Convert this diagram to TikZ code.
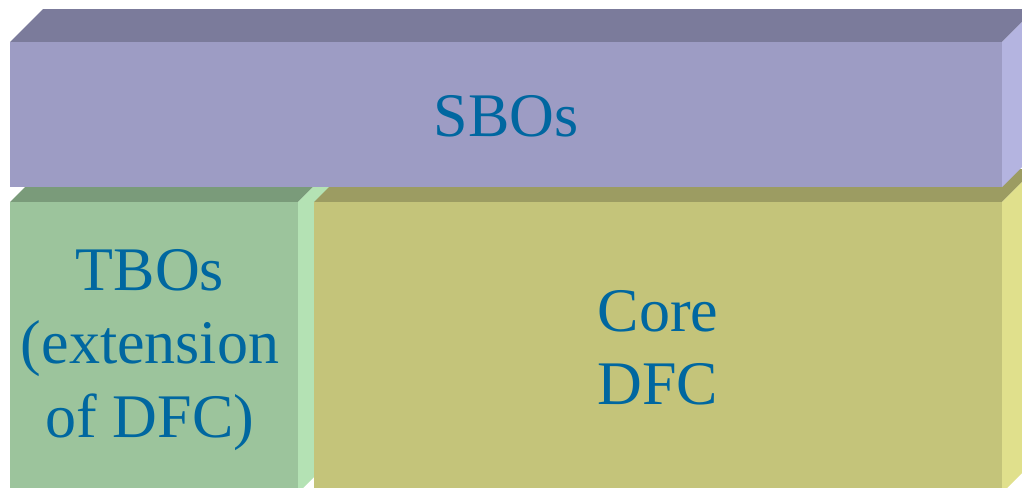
\documentclass[tikz,border=0pt]{standalone}
\usepackage{fontspec}
\setmainfont{Liberation Serif}

\definecolor{sboVorne}{RGB}{157,156,196}
\definecolor{sboOben}{RGB}{123,123,155}
\definecolor{sboSeite}{RGB}{180,180,224}
\definecolor{tboVorne}{RGB}{156,196,156}
\definecolor{tboOben}{RGB}{122,155,122}
\definecolor{tboSeite}{RGB}{180,226,180}
\definecolor{dfcVorne}{RGB}{196,196,122}
\definecolor{dfcOben}{RGB}{156,156,98}
\definecolor{dfcSeite}{RGB}{224,224,140}
\definecolor{textblau}{RGB}{0,103,160}

\tikzset{
	schrift/.style={text=textblau, inner sep=0pt, align=center,
		font=\fontsize{46.5}{55}\selectfont},
}

% Quader: #1,#2 = links oben, #3,#4 = rechts unten, #5 = Farbname
\newcommand{\quader}[5]{
	\fill[#5Oben] (#1,#2) -- ++(33,-33) -- (#3+33,#2-33) -- (#3,#2) -- cycle;
	\fill[#5Seite] (#3,#2) -- ++(33,-33) -- (#3+33,#4-33) -- (#3,#4) -- cycle;
	\fill[#5Vorne] (#1,#2) rectangle (#3,#4);
}

\begin{document}
\begin{tikzpicture}[x=0.75pt, y=-0.75pt]

		\useasboundingbox (0,0) rectangle (1022,487);
		\clip (0,0) rectangle (1022,487);

		%Quader links (TBOs)
		\quader{10}{202}{298}{493}{tbo}
		%Quader rechts (Core DFC)
		\quader{314}{202}{1002}{493}{dfc}
		%Quader oben (SBOs)
		\quader{10}{42}{1002}{187}{sbo}

		%Beschriftung
		\node [schrift] (sbo) at (506,116) {SBOs};
		\node [schrift] (tbo) at (150,350) {TBOs\\(extension\\of DFC)};
		\node [schrift] (dfc) at (658,348) {Core\\DFC};

\end{tikzpicture}
\end{document}
